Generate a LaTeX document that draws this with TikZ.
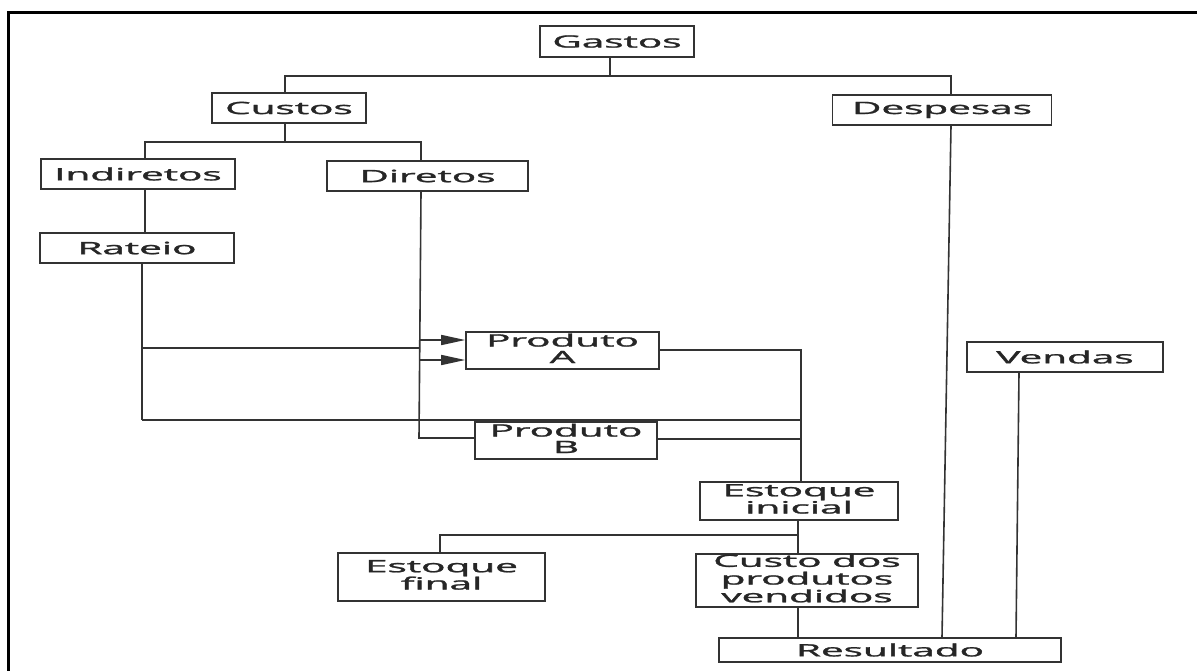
\documentclass[tikz,border=0pt]{standalone}
\usepackage{fontspec}
\newfontfamily\chartfont{Open Sans}[FakeBold=1.3]
\usetikzlibrary{arrows.meta}

% wide lettering used throughout the chart
\newcommand\wide[1]{\scalebox{2.38}[1]{#1}}
\newcommand\lines[1]{\begin{tabular}{@{}c@{}}#1\end{tabular}}

\tikzset{
  box/.style={draw=black!80, line width=1.6pt, inner sep=0pt,
              font=\chartfont\fontsize{17}{14.5}\selectfont, text=black!85},
  link/.style={draw=black!80, line width=1.6pt},
  arr/.style={link, -{Triangle[length=24pt,width=10pt]}},
}

\begin{document}
\begin{tikzpicture}[x=1pt,y=-1pt]
\useasboundingbox (0,0) rectangle (1197,670);
\fill[white] (0,0) rectangle (1197,670);

% frame
\draw[line width=3pt] (8,676) -- (8,12) -- (1203,12);

% boxes
\node[box, minimum width=154pt, minimum height=31pt] (gastos)   at (617,41.5)  {\wide{Gastos}};
\node[box, minimum width=154pt, minimum height=30pt] (custos)   at (289,108)   {\wide{Custos}};
\node[box, minimum width=219pt, minimum height=30pt] (despesas) at (942,110)   {\wide{Despesas}};
\node[box, minimum width=194pt, minimum height=30pt] (indir)    at (138,174)   {\wide{Indiretos}};
\node[box, minimum width=201pt, minimum height=30pt] (diretos)  at (427.5,176) {\wide{Diretos}};
\node[box, minimum width=194pt, minimum height=30pt] (rateio)   at (137,248)   {\wide{Rateio}};
\node[box, minimum width=193pt, minimum height=37pt] (prodA)    at (562.5,350.5) {\wide{\lines{Produto\\A}}};
\node[box, minimum width=182pt, minimum height=37pt] (prodB)    at (566,440.5) {\wide{\lines{Produto\\B}}};
\node[box, minimum width=196pt, minimum height=30pt] (vendas)   at (1065,357)  {\wide{Vendas}};
\node[box, minimum width=198pt, minimum height=38pt] (estini)   at (799,501)   {\wide{\lines{Estoque\\inicial}}};
\node[box, minimum width=207pt, minimum height=48pt] (estfin)   at (441.5,577) {\wide{\lines{Estoque\\final}}};
\node[box, minimum width=222pt, minimum height=51pt,
      font=\chartfont\fontsize{17}{16}\selectfont]         (cpv)      at (807,580.5) {\wide{\lines{Custo dos\\produtos\\vendidos}}};
\node[box, minimum width=342pt, minimum height=24pt] (result)   at (890,650)   {\wide{Resultado}};

% junction points
\coordinate (g0) at (610,76);
\coordinate (gL) at (285,76);
\coordinate (gR) at (951,76);
\coordinate (cL) at (145,142);
\coordinate (cR) at (421,142);
\coordinate (rt) at (142,348);
\coordinate (rb) at (142,420);
\coordinate (dm) at (419,348);
\coordinate (db) at (419,438);
\coordinate (a1) at (419,340);
\coordinate (a2) at (419,360);
\coordinate (pA) at (801,350);
\coordinate (pT) at (801,420);
\coordinate (pB) at (801,439);
\coordinate (eR) at (798,535);
\coordinate (eL) at (440,535);
\coordinate (dsT) at (951,0);
\coordinate (dsB) at (942,0);
\coordinate (vdT) at (1019,0);
\coordinate (vdB) at (1016,0);

% Gastos -> Custos / Despesas
\draw[link] (gastos.south -| g0) -- (g0);
\draw[link] (custos.north -| gL) -- (gL) -- (gR) -- (despesas.north -| gR);

% Custos -> Indiretos / Diretos
\draw[link] (custos.south -| gL) -- (gL |- cL);
\draw[link] (indir.north -| cL) -- (cL) -- (cR) -- (diretos.north -| cR);

% Indiretos -> Rateio
\draw[link] (indir.south -| cL) -- (rateio.north -| cL);

% Rateio distributed to both products
\draw[link] (rateio.south -| rt) -- (rb);
\draw[link] (rt) -- (dm);
\draw[link] (rb) -- (pT);

% Diretos -> products
\draw[link] (diretos.south -| cR) -- (db) -- (prodB.west |- db);
\draw[arr] (a1) -- (prodA.west |- a1);
\draw[arr] (a2) -- (prodA.west |- a2);

% products -> Estoque inicial
\draw[link] (prodA.east |- pA) -- (pA) -- (estini.north -| pA);
\draw[link] (prodB.east |- pB) -- (pB);

% Estoque inicial -> Estoque final / CPV -> Resultado
\draw[link] (estini.south -| eR) -- (cpv.north -| eR);
\draw[link] (eR) -- (eL) -- (estfin.north -| eL);
\draw[link] (cpv.south -| eR) -- (result.north -| eR);

% Despesas and Vendas -> Resultado
\draw[link] (despesas.south -| dsT) -- (result.north -| dsB);
\draw[link] (vendas.south -| vdT) -- (result.north -| vdB);
\end{tikzpicture}
\end{document}
